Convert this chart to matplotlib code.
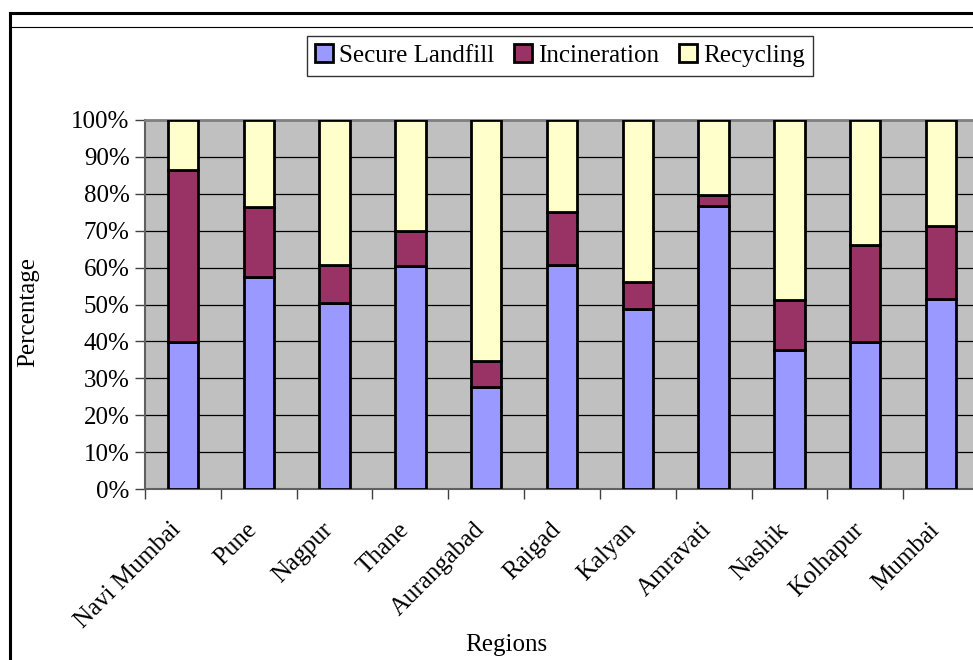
import numpy as np
import matplotlib.pyplot as plt
import matplotlib.transforms as mtransforms
from matplotlib.lines import Line2D

plt.rcParams['font.family'] = ['Liberation Serif', 'DejaVu Serif']

regions = ['Navi Mumbai', 'Pune', 'Nagpur', 'Thane', 'Aurangabad', 'Raigad',
           'Kalyan', 'Amravati', 'Nashik', 'Kolhapur', 'Mumbai']
landfill = [39.8, 57.5, 50.4, 60.5, 27.6, 60.7, 48.8, 76.8, 37.7, 39.9, 51.5]
incineration = [46.7, 19.0, 10.2, 9.4, 7.0, 14.5, 7.4, 3.0, 13.4, 26.3, 19.9]
recycling = [13.5, 23.5, 39.4, 30.1, 65.4, 24.8, 43.8, 20.2, 48.9, 33.8, 28.6]

W, H = 973, 660
fig = plt.figure(figsize=(W / 100, H / 100), dpi=100)

# page frame lines
fig.add_artist(Line2D([10 / W, 10 / W], [0, 1 - 13 / H], color='black', lw=2.2))
fig.add_artist(Line2D([10 / W, 1], [1 - 13 / H, 1 - 13 / H], color='black', lw=2.2))
fig.add_artist(Line2D([10 / W, 1], [1 - 27 / H, 1 - 27 / H], color='black', lw=0.8))

ax = fig.add_axes([145 / W, 1 - 489 / H, 834 / W, 369 / H])
ax.set_facecolor('#C0C0C0')

x = np.arange(len(regions))
bw = 0.4
ax.bar(x, landfill, bw, color='#9999FF', edgecolor='black', lw=2, label='Secure Landfill', zorder=3)
ax.bar(x, incineration, bw, bottom=landfill, color='#993366', edgecolor='black', lw=2,
       label='Incineration', zorder=3)
bottom2 = np.array(landfill) + np.array(incineration)
ax.bar(x, recycling, bw, bottom=bottom2, color='#FFFFCC', edgecolor='black', lw=2,
       label='Recycling', zorder=3)

ax.set_xlim(-0.5, len(regions) - 0.5)
ax.set_ylim(0, 100)
ax.set_yticks(np.arange(0, 101, 10))
ax.set_yticklabels([f'{v}%' for v in range(0, 101, 10)], fontsize=18)
ax.yaxis.grid(True, color='black', lw=0.9, zorder=1)
ax.set_axisbelow(True)

ax.set_xticks(np.arange(-0.5, len(regions) + 0.5, 1))
ax.set_xticklabels([])
ax.set_xticks(x, minor=True)
ax.set_xticklabels(regions, minor=True, rotation=45, ha='right', va='center',
                   rotation_mode='anchor', fontsize=18)
ax.tick_params(axis='x', which='minor', length=0, pad=27)
ax.tick_params(axis='both', which='major', length=7, width=1, color='#404040',
               direction='out', pad=4)
shift = mtransforms.ScaledTranslation(-5 / 100, 0, fig.dpi_scale_trans)
for lab in ax.get_xticklabels(minor=True):
    lab.set_transform(lab.get_transform() + shift)

for side in ['top', 'right']:
    ax.spines[side].set_color('#808080')
    ax.spines[side].set_linewidth(2)
ax.spines['left'].set_color('#606060')
ax.spines['bottom'].set_color('#606060')
ax.spines['left'].set_linewidth(1.5)
ax.spines['bottom'].set_linewidth(1.5)

fig.text(28 / W, 1 - 312 / H, 'Percentage', rotation=90, ha='center', va='center', fontsize=18)
fig.text(506 / W, 1 - 645 / H, 'Regions', ha='center', va='center', fontsize=18)

leg = fig.legend(loc='center', bbox_to_anchor=(560 / W, 1 - 55.5 / H), ncol=3, fontsize=18,
                 frameon=True, fancybox=False, edgecolor='black', handlelength=0.7,
                 handleheight=0.7, handletextpad=0.25, columnspacing=0.8, borderpad=0.35,
                 borderaxespad=0)
leg.get_frame().set_linewidth(1)

fig.savefig('out.png', dpi=100)
